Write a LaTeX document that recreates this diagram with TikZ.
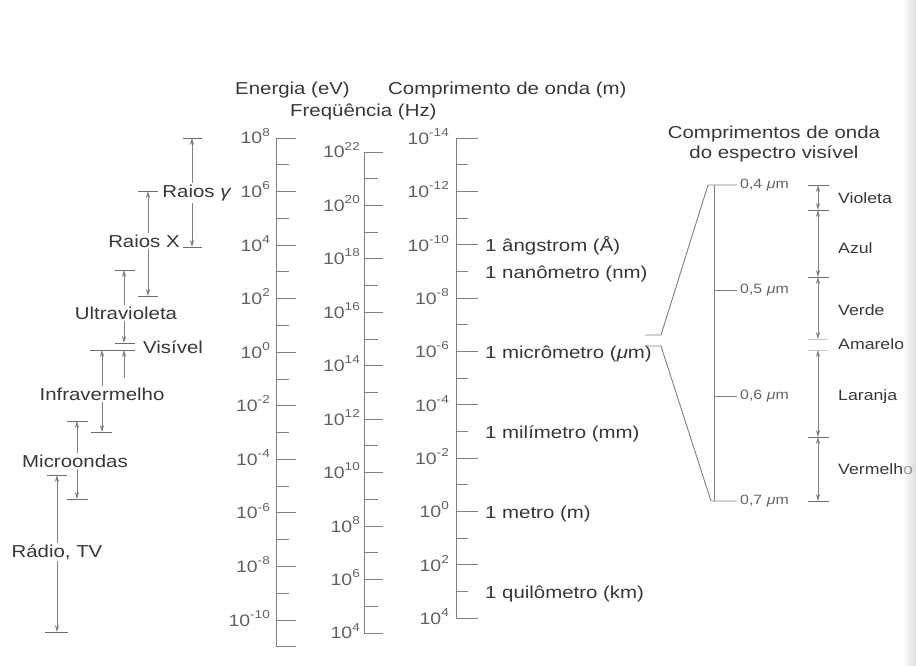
\documentclass[tikz,border=0pt]{standalone}
\usepackage{fontspec}
\setmainfont{Liberation Sans}[FakeStretch=1.18]
\usetikzlibrary{arrows.meta}
\newcommand\tp[1]{10\raisebox{0.48em}{\fontsize{11.5}{12}\selectfont #1}}
\begin{document}
\begin{tikzpicture}[x=1pt,y=-1pt,
  lbl/.style={font=\fontsize{17.3}{20}\selectfont, text=black!78, inner sep=0pt},
  rlbl/.style={font=\fontsize{15}{18}\selectfont, text=black!78, inner sep=0pt},
  num/.style={font=\fontsize{16.5}{18}\selectfont, text=black!62, inner sep=0pt},
  small/.style={font=\fontsize{13.5}{15}\selectfont, text=black!60, inner sep=0pt},
  ax/.style={draw=black!50, line width=0.9pt},
  bar/.style={draw=black!58, line width=0.8pt},
  faint/.style={draw=black!22, line width=0.7pt},
  dim/.style={draw=black!50, line width=0.8pt},
  dimarr/.style={dim, {Stealth[length=7pt,width=4.2pt]}-{Stealth[length=7pt,width=4.2pt]}},
  onearr/.style={dim, -{Stealth[length=7pt,width=4.2pt]}},
  cover/.style={lbl, fill=white, inner sep=1.5pt}
]
\useasboundingbox (0,0) rectangle (916,666);
\fill[white] (0,0) rectangle (916,666);

% ---------- titles
\node[lbl, anchor=west] (tEn) at (235,90) {Energia (eV)};
\node[lbl, anchor=west] (tFr) at (290,112) {Freqüência (Hz)};
\node[lbl, anchor=west] (tWl) at (388,90) {Comprimento de onda (m)};

% ---------- energy axis
\coordinate (eTop) at (276,138);
\coordinate (eBot) at (276,646.8);
\draw[ax] (eTop) -- (eBot);
\foreach \i in {0,...,19}{
  \pgfmathsetmacro\yy{138+\i*26.78}
  \pgfmathsetmacro\len{(mod(\i,2)==0 || \i==19) ? 20 : 13}
  \draw[ax] (276,\yy) -- ++(\len,0);
}
\foreach \e [count=\k from 0] in {8,6,4,2,0,-2,-4,-6,-8,-10}{
  \node[num, anchor=base east] (en\k) at (270,{138+\k*53.56+6}) {\tp{\e}};
}

% ---------- frequency axis
\coordinate (fTop) at (364,152);
\coordinate (fBot) at (364,633);
\draw[ax] (fTop) -- (fBot);
\foreach \i in {0,...,18}{
  \pgfmathsetmacro\yy{152+\i*26.72}
  \pgfmathsetmacro\len{mod(\i,2)==0 ? 19 : 14}
  \draw[ax] (364,\yy) -- ++(\len,0);
}
\foreach \e [count=\k from 0] in {22,20,18,16,14,12,10,8,6,4}{
  \node[num, anchor=base east] (fr\k) at (360,{152+\k*53.44+6}) {\tp{\e}};
}

% ---------- wavelength axis
\coordinate (wTop) at (456,138);
\coordinate (wBot) at (456,618);
\draw[ax] (wTop) -- (wBot);
\foreach \i in {0,...,18}{
  \pgfmathsetmacro\yy{138+\i*26.67}
  \pgfmathsetmacro\len{mod(\i,2)==0 ? 22 : 12}
  \draw[ax] (456,\yy) -- ++(\len,0);
}
\foreach \e [count=\k from 0] in {-14,-12,-10,-8,-6,-4,-2,0,2,4}{
  \node[num, anchor=base east] (wl\k) at (449,{138+\k*53.33+6.5}) {\tp{\e}};
}
\node[lbl, anchor=base west] (ang) at (485,{138+4*26.67+7}) {1 ângstrom (Å)};
\node[lbl, anchor=base west] (nano) at (485,{138+5*26.67+7}) {1 nanômetro (nm)};
\node[lbl, anchor=base west] (micro) at (485,{138+8*26.67+7}) {1 micrômetro (\textit{μ}m)};
\node[lbl, anchor=base west] (mili) at (485,{138+11*26.67+7}) {1 milímetro (mm)};
\node[lbl, anchor=base west] (metro) at (485,{138+14*26.67+7}) {1 metro (m)};
\node[lbl, anchor=base west] (km) at (485,{138+17*26.67+7}) {1 quilômetro (km)};

% ---------- left: spectral bands
% gamma rays
\coordinate (gT) at (192,138); \coordinate (gB) at (192,247);
\draw[bar] (183,138) -- (202,138); \draw[bar] (183,247) -- (202,247);
\draw[dimarr] (gT) -- (gB);
\node[cover] (gam) at (197,193) {Raios \textit{γ}};
% X rays
\coordinate (xT) at (148,191); \coordinate (xB) at (148,296);
\draw[bar] (138,191) -- (158,191); \draw[bar] (138,296) -- (158,296);
\draw[dimarr] (xT) -- (xB);
\node[cover] (xr) at (144,241) {Raios X};
% ultraviolet
\coordinate (uT) at (124,270); \coordinate (uB) at (124,343);
\draw[bar] (115,270) -- (135,270); \draw[bar] (115,343) -- (135,343);
\draw[dimarr] (uT) -- (uB);
\node[cover] (uv) at (126,313) {Ultravioleta};
% visible
\draw[bar] (90,350) -- (135,350);
\coordinate (vT) at (124,350); \coordinate (vB) at (124,378);
\draw[onearr] (vB) -- (vT);
\node[lbl, anchor=west] (vis) at (143,347) {Visível};
% infrared
\coordinate (iT) at (102,350); \coordinate (iB) at (102,432);
\draw[bar] (91,432) -- (112,432);
\draw[dimarr] (iT) -- (iB);
\node[cover] (ir) at (102,394) {Infravermelho};
% microwaves
\coordinate (mT) at (77,421); \coordinate (mB) at (77,499);
\draw[bar] (67,421) -- (88,421); \draw[bar] (67,499) -- (88,499);
\draw[dimarr] (mT) -- (mB);
\node[cover] (mw) at (75,461) {Microondas};
% radio
\coordinate (rT) at (57,475); \coordinate (rB) at (57,632);
\draw[bar] (47,475) -- (67,475); \draw[bar] (45,632) -- (68,632);
\draw[dimarr] (rT) -- (rB);
\node[cover] (rad) at (57,552) {Rádio, TV};

% ---------- right: visible spectrum
\node[lbl, align=center] (tVis) at (774,144) {Comprimentos de onda\\do espectro visível};
\coordinate (s4) at (714,185); \coordinate (s7) at (714,501);
\draw[ax] (s4) -- (s7);
\draw[ax] (645,335) -- (661,335) -- (708,185) -- (737,185);
\draw[ax] (645,346) -- (661,346) -- (711,501) -- (737,501);
\draw[ax] (714,290) -- (737,290);
\draw[ax] (714,396) -- (737,396);
\node[small, anchor=west] (l4) at (740,185) {0,4 \textit{μ}m};
\node[small, anchor=west] (l5) at (740,290) {0,5 \textit{μ}m};
\node[small, anchor=west] (l6) at (740,396) {0,6 \textit{μ}m};
\node[small, anchor=west] (l7) at (740,501) {0,7 \textit{μ}m};

\coordinate (c1) at (818,185);
\coordinate (c2) at (818,210);
\coordinate (c3) at (818,277);
\coordinate (c4) at (818,339);
\coordinate (c5) at (818,350);
\coordinate (c6) at (818,437);
\coordinate (c7) at (818,501);
\foreach \c in {c1,c2,c3,c6,c7}{\draw[bar] ([xshift=-10pt]\c) -- ([xshift=11pt]\c);}
\foreach \c in {c4,c5}{\draw[faint] ([xshift=-10pt]\c) -- ([xshift=10pt]\c);}
\draw[dimarr] (c1) -- (c2);
\draw[dimarr] (c2) -- (c3);
\draw[dimarr] (c3) -- (c4);
\draw[dimarr] (c5) -- (c6);
\draw[dimarr] (c6) -- (c7);
\node[rlbl, anchor=west] (vio) at (838,198) {Violeta};
\node[rlbl, anchor=west] (azu) at (838,248) {Azul};
\node[rlbl, anchor=west] (ver) at (838,310) {Verde};
\node[rlbl, anchor=west] (ama) at (838,344) {Amarelo};
\node[rlbl, anchor=west] (lar) at (838,397) {Laranja};
\node[rlbl, anchor=west] (vrm) at (838,469) {Vermelho};

% ---------- scan shading at the right edge (translucent)
\shade[left color=white, right color=black!25, fill opacity=0.55] (903,0) rectangle (916,666);
\end{tikzpicture}
\end{document}
